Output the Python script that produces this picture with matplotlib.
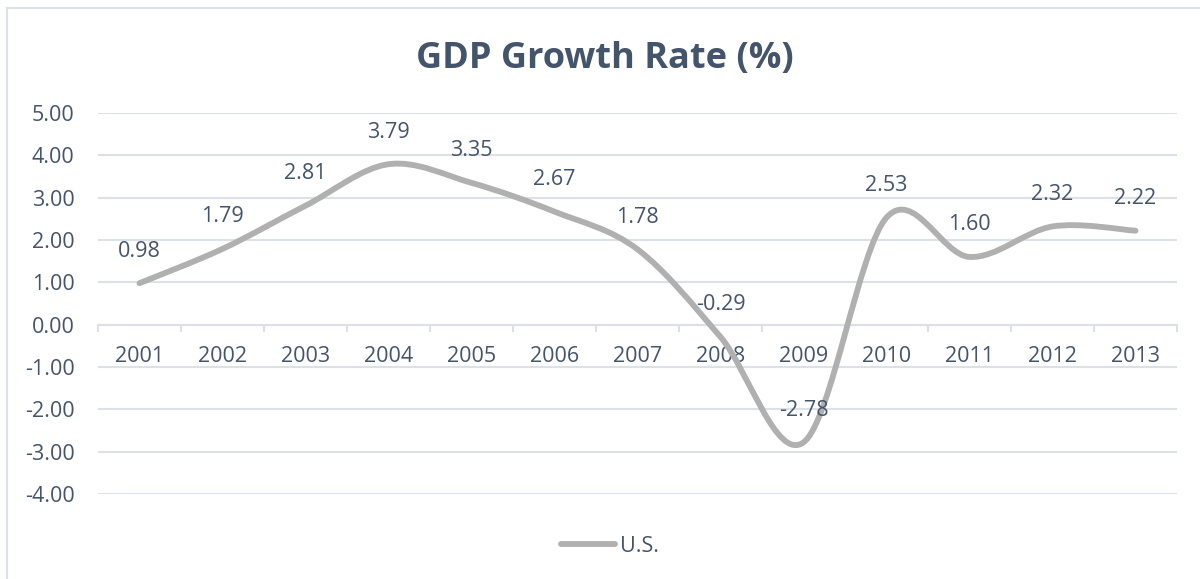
import matplotlib
matplotlib.use("Agg")
import matplotlib.pyplot as plt
from matplotlib.path import Path
from matplotlib.patches import PathPatch
from matplotlib.lines import Line2D
import numpy as np

years = ["2001", "2002", "2003", "2004", "2005", "2006", "2007",
         "2008", "2009", "2010", "2011", "2012", "2013"]
gdp_us = [0.98, 1.79, 2.81, 3.79, 3.35, 2.67, 1.78,
          -0.29, -2.78, 2.53, 1.60, 2.32, 2.22]
value_labels = ["0.98", "1.79", "2.81", "3.79", "3.35", "2.67", "1.78",
                "-0.29", "-2.78", "2.53", "1.60", "2.32", "2.22"]
y_ticks = [5, 4, 3, 2, 1, 0, -1, -2, -3, -4]
series_name = "U.S."
title = "GDP Growth Rate (%)"

TEXT = "#44546A"
GRID = "#DCE1E8"
LINE = "#B0B0B0"
FONT = "Open Sans"
FS = 15.5

W, H = 1200, 579
fig = plt.figure(figsize=(W / 100, H / 100), dpi=100)
fig.patch.set_facecolor("white")

# outer chart frame (top and left edges visible)
fig.add_artist(Line2D([7 / W, 1.0], [1 - 8 / H, 1 - 8 / H], transform=fig.transFigure,
                      color=GRID, lw=1.5))
fig.add_artist(Line2D([7 / W, 7 / W], [0, 1 - 8 / H], transform=fig.transFigure,
                      color=GRID, lw=1.5))

left, right = 98 / W, 1177 / W
top, bottom = 1 - 113 / H, 1 - 494 / H
ax = fig.add_axes([left, bottom, right - left, top - bottom])
ax.set_facecolor("none")

x = np.arange(len(years), dtype=float)
y = np.array(gdp_us, dtype=float)

ax.set_xlim(-0.5, len(years) - 0.5)
ax.set_ylim(min(y_ticks), max(y_ticks))

# gridlines
ax.set_yticks(y_ticks)
ax.set_yticklabels([f"{v:.2f}" for v in y_ticks], fontsize=FS, color=TEXT, family=FONT)
ax.tick_params(axis="y", length=0, pad=17)
ax.yaxis.grid(True, color=GRID, lw=1.5)
ax.set_axisbelow(True)
for s in ["top", "right", "left"]:
    ax.spines[s].set_visible(False)
ax.spines["bottom"].set_position(("data", 0))
ax.spines["bottom"].set_color(GRID)
ax.spines["bottom"].set_linewidth(1.5)
ax.set_xticks(np.arange(-0.5, len(years), 1.0))
ax.set_xticklabels([])
ax.tick_params(axis="x", direction="out", length=5, width=1.5, color=GRID)

# category labels just below the zero axis
for xi, lab in zip(x, years):
    ax.annotate(lab, (xi, 0), xytext=(0, -32), textcoords="offset pixels",
                ha="center", va="center", fontsize=FS, color=TEXT, family=FONT)

# smoothed line (Catmull-Rom -> cubic Bezier, like Excel's smoothing)
pts = np.column_stack([x, y])
verts = [tuple(pts[0])]
codes = [Path.MOVETO]
n = len(pts)
for i in range(n - 1):
    p0 = pts[i - 1] if i > 0 else pts[i]
    p1 = pts[i]
    p2 = pts[i + 1]
    p3 = pts[i + 2] if i + 2 < n else pts[i + 1]
    c1 = p1 + (p2 - p0) / 6.0
    c2 = p2 - (p3 - p1) / 6.0
    verts += [tuple(c1), tuple(c2), tuple(p2)]
    codes += [Path.CURVE4] * 3
path = Path(verts, codes)
ax.add_patch(PathPatch(path, facecolor="none", edgecolor=LINE, lw=4.2,
                       capstyle="round", joinstyle="round", zorder=3))

# data labels above points
for xi, yi, lab in zip(x, y, value_labels):
    ax.annotate(lab, (xi, yi), xytext=(0, 32), textcoords="offset pixels",
                ha="center", va="center", fontsize=FS, color=TEXT, family=FONT,
                zorder=4)

# title
fig.text(605 / W, 1 - 59 / H, title, ha="center", va="center", fontsize=26,
         fontweight="bold", color=TEXT, family=FONT)

# legend
handle = Line2D([], [], color=LINE, lw=4.2, solid_capstyle="round")
leg = fig.legend([handle], [series_name], loc="center",
                 bbox_to_anchor=(610 / W, 1 - 546 / H), frameon=False,
                 handlelength=2.5, handletextpad=0.2,
                 prop={"family": FONT, "size": FS})
for t in leg.get_texts():
    t.set_color(TEXT)

fig.savefig("out.png", dpi=100, facecolor="white")
